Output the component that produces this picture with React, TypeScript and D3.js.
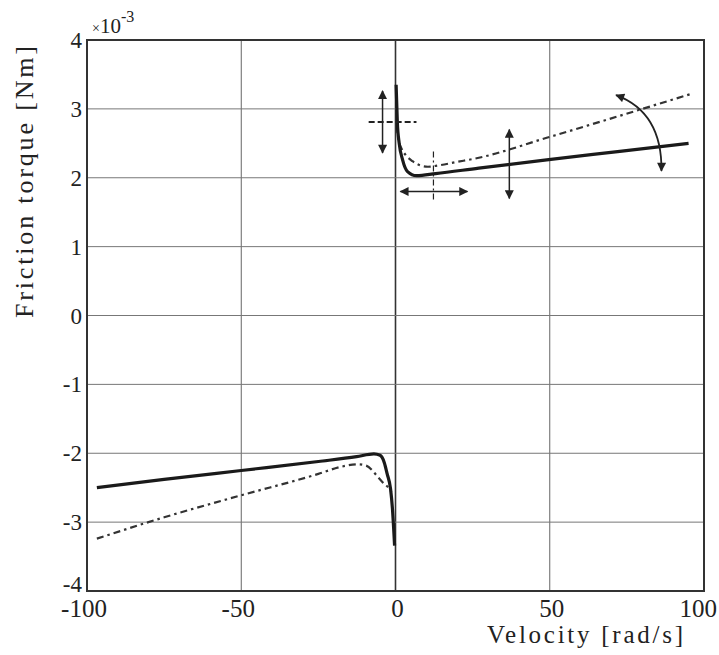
import { useEffect, useRef } from "react";
import * as d3 from "d3";

// velocity [rad/s], friction torque [x1e-3 Nm]
const solidNeg: [number, number][] = [
  [-96.8, -2.5], [-75, -2.38], [-50, -2.25], [-25, -2.12], [-12.6, -2.05],
  [-7, -2.01], [-5, -2.03], [-3.6, -2.14], [-2.7, -2.3], [-1.6, -2.52],
  [-1, -2.8], [-0.3, -3.34],
];
const solidPos: [number, number][] = [
  [0.2, 3.35], [0.6, 2.8], [1.2, 2.5], [2.3, 2.26], [3.9, 2.09], [6.8, 2.03],
  [13, 2.06], [27, 2.14], [49, 2.26], [72, 2.38], [95, 2.5],
];
const dashNeg: [number, number][] = [
  [-96.8, -3.24], [-75, -2.93], [-50, -2.61], [-25, -2.3], [-18, -2.2],
  [-12, -2.16], [-9.5, -2.18], [-7.5, -2.25], [-6, -2.33], [-4.2, -2.42],
  [-2.3, -2.5], [-1.3, -2.56],
];
const dashPos: [number, number][] = [
  [0.4, 2.75], [1, 2.55], [2, 2.42], [3.5, 2.32], [5.5, 2.24], [8, 2.18],
  [10.5, 2.16], [14, 2.18], [20, 2.23], [27, 2.29], [49, 2.58], [72, 2.89],
  [96, 3.22],
];

const xTicks = [-100, -50, 0, 50, 100];
const yTicks = [-4, -3, -2, -1, 0, 1, 2, 3, 4];

// annotation arrows (data coords)
const vArrows = [
  { v: -4.2, y1: 3.26, y2: 2.36 },
  { v: 36.9, y1: 2.7, y2: 1.7 },
];
const hArrow = { y: 1.8, v1: 1.6, v2: 23.3 };

export default function App() {
  const svgRef = useRef<SVGSVGElement>(null);

  useEffect(() => {
    const svg = d3.select(svgRef.current);
    svg.selectAll("*").remove();

    const x = d3.scaleLinear().domain([-100, 100]).range([87, 704]);
    const y = d3.scaleLinear().domain([-4, 4]).range([591, 40]);
    const font = "'Liberation Serif', 'Times New Roman', serif";

    const defs = svg.append("defs");
    defs.append("marker")
      .attr("id", "ah")
      .attr("viewBox", "0 0 10 10")
      .attr("refX", 9).attr("refY", 5)
      .attr("markerWidth", 11).attr("markerHeight", 9)
      .attr("markerUnits", "userSpaceOnUse")
      .attr("orient", "auto-start-reverse")
      .append("path")
      .attr("d", "M0,0 L10,5 L0,10 Z")
      .attr("fill", "#222");

    // grid
    svg.append("g").selectAll("line.gx")
      .data(xTicks.slice(1, -1))
      .join("line")
      .attr("x1", d => x(d)).attr("x2", d => x(d))
      .attr("y1", y(4)).attr("y2", y(-4))
      .attr("stroke", d => d === 0 ? "#333" : "#666")
      .attr("stroke-width", d => d === 0 ? 1.6 : 1);
    svg.append("g").selectAll("line.gy")
      .data(yTicks.slice(1, -1))
      .join("line")
      .attr("x1", x(-100)).attr("x2", x(100))
      .attr("y1", d => y(d)).attr("y2", d => y(d))
      .attr("stroke", "#777")
      .attr("stroke-width", 1);

    // frame
    svg.append("rect")
      .attr("x", x(-100)).attr("y", y(4))
      .attr("width", x(100) - x(-100)).attr("height", y(-4) - y(4))
      .attr("fill", "none")
      .attr("stroke", "#333")
      .attr("stroke-width", 2);

    const line = d3.line<[number, number]>()
      .x(d => x(d[0]))
      .y(d => y(d[1]))
      .curve(d3.curveMonotoneX);

    [dashNeg, dashPos].forEach(s => {
      svg.append("path")
        .attr("d", line(s))
        .attr("fill", "none")
        .attr("stroke", "#333")
        .attr("stroke-width", 2.2)
        .attr("stroke-dasharray", "7 4 2.5 4");
    });
    [solidNeg, solidPos].forEach(s => {
      svg.append("path")
        .attr("d", line(s))
        .attr("fill", "none")
        .attr("stroke", "#1a1a1a")
        .attr("stroke-width", 3.2);
    });

    // annotations
    const ann = svg.append("g").attr("stroke", "#222").attr("fill", "none");
    ann.selectAll("line.va")
      .data(vArrows)
      .join("line")
      .attr("x1", d => x(d.v)).attr("x2", d => x(d.v))
      .attr("y1", d => y(d.y1)).attr("y2", d => y(d.y2))
      .attr("stroke-width", 1.5)
      .attr("marker-start", "url(#ah)")
      .attr("marker-end", "url(#ah)");
    ann.append("line")
      .attr("x1", x(hArrow.v1)).attr("x2", x(hArrow.v2))
      .attr("y1", y(hArrow.y)).attr("y2", y(hArrow.y))
      .attr("stroke-width", 1.5)
      .attr("marker-start", "url(#ah)")
      .attr("marker-end", "url(#ah)");
    // dashed horizontal marker at static level
    ann.append("line")
      .attr("x1", x(-8.7)).attr("x2", x(6.8))
      .attr("y1", y(2.81)).attr("y2", y(2.81))
      .attr("stroke-width", 2)
      .attr("stroke-dasharray", "6 3");
    // dash-dot vertical marker at Stribeck velocity
    ann.append("line")
      .attr("x1", x(12.3)).attr("x2", x(12.3))
      .attr("y1", y(2.38)).attr("y2", y(1.66))
      .attr("stroke-width", 1.2)
      .attr("stroke-dasharray", "6 3 2 3");
    // curved arrow for slope
    const p0 = [x(71.5), y(3.2)], pc = [x(86.5), y(2.95)], p1 = [x(86.2), y(2.1)];
    ann.append("path")
      .attr("d", `M${p0[0]},${p0[1]} Q${pc[0]},${pc[1]} ${p1[0]},${p1[1]}`)
      .attr("stroke-width", 1.8)
      .attr("marker-start", "url(#ah)")
      .attr("marker-end", "url(#ah)");

    // tick labels
    svg.append("g").selectAll("text")
      .data(xTicks)
      .join("text")
      .attr("x", d => d === 100 ? 717 : x(d) + (d < 0 ? -3 : 2))
      .attr("y", 617)
      .attr("text-anchor", d => d === 100 ? "end" : "middle")
      .attr("font-family", font)
      .attr("font-size", 25)
      .attr("fill", "#222")
      .text(d => d);
    svg.append("g").selectAll("text")
      .data(yTicks)
      .join("text")
      .attr("x", 82)
      .attr("y", d => y(d) + (d === -4 ? 1 : 8))
      .attr("text-anchor", "end")
      .attr("font-family", font)
      .attr("font-size", 23)
      .attr("fill", "#222")
      .text(d => d);

    // exponent
    const ex = svg.append("text")
      .attr("x", 92).attr("y", 33)
      .attr("font-family", font)
      .attr("fill", "#222");
    ex.append("tspan").attr("font-size", 14).text("×");
    ex.append("tspan").attr("font-size", 21).text("10");
    ex.append("tspan").attr("font-size", 16).attr("dy", -11).text("-3");

    // axis titles
    svg.append("text")
      .attr("x", 487).attr("y", 643)
      .attr("font-family", font)
      .attr("font-size", 25)
      .attr("fill", "#222")
      .attr("textLength", 196)
      .attr("lengthAdjust", "spacing")
      .text("Velocity [rad/s]");
    svg.append("text")
      .attr("transform", "translate(33,318) rotate(-90)")
      .attr("font-family", font)
      .attr("font-size", 26)
      .attr("fill", "#222")
      .attr("textLength", 272)
      .attr("lengthAdjust", "spacing")
      .text("Friction torque [Nm]");
  }, []);

  return (
    <div style={{ position: "absolute", left: 0, top: 0 }}>
      <svg ref={svgRef} width={719} height={655} style={{ background: "#fff", display: "block" }}></svg>
    </div>
  );
}
